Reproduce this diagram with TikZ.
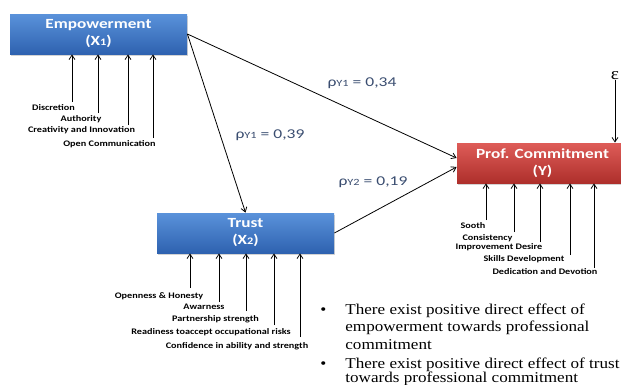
\documentclass[tikz,border=0pt]{standalone}
\usepackage{fontspec}
\setmainfont[FakeStretch=1.14]{Liberation Serif}
\setsansfont{Carlito}
\newfontfamily\boxfont[FakeStretch=1.23]{Carlito}
\newfontfamily\itemfont[FakeStretch=1.2]{Carlito}
\newfontfamily\coeffont[FakeStretch=1.3]{Carlito}
\usetikzlibrary{arrows.meta,shadows}

\definecolor{blueTop}{HTML}{5A92DA}
\definecolor{blueBot}{HTML}{2E62B0}
\definecolor{redTop}{HTML}{DE5C58}
\definecolor{redBot}{HTML}{AE2F2B}
\definecolor{coefText}{HTML}{3A4D70}

\begin{document}
\begin{tikzpicture}[x=1pt, y=-1pt, thick, >={Straight Barb[length=4.5pt,width=6pt]},
                    factor/.style={rectangle,minimum height=40pt,inner sep=0pt,align=center,text=white,
                      font=\boxfont\bfseries\fontsize{14}{17}\selectfont,
                      drop shadow={shadow xshift=1pt,shadow yshift=-1.5pt,opacity=0.35}},
                    blue factor/.style={factor,top color=blueTop,bottom color=blueBot,minimum width=177pt},
                    red factor/.style={factor,top color=redTop,bottom color=redBot,minimum width=171pt},
                    item/.style={font=\itemfont\bfseries\fontsize{8.5}{9}\selectfont,inner sep=0pt},
                    coef/.style={font=\coeffont\fontsize{13.5}{15}\selectfont,text=coefText}]

  \useasboundingbox (0,0) rectangle (621,384);

  \node[blue factor] (emp) at (98.5,34) {Empowerment\\(X{\fontsize{10}{10}\selectfont 1})};
  \node[blue factor] (trust) at (245.5,233) {Trust\\(X{\fontsize{10}{10}\selectfont 2})};
  \node[red factor] (prof) at (542.5,163) {Prof. Commitment\\(Y)};
  \node[font=\fontsize{17}{17}\selectfont,inner sep=0pt] (eps) at (615,76) {ε};

  \node[coef] (c1) at (362,83) {ρ{\fontsize{9.5}{10}\selectfont Y1} = 0,34};
  \node[coef] (c2) at (270,135) {ρ{\fontsize{9.5}{10}\selectfont Y1} = 0,39};
  \node[coef] (c3) at (373,182) {ρ{\fontsize{9.5}{10}\selectfont Y2} = 0,19};

  % indicators of empowerment
  \coordinate (e1) at (72,102);
  \coordinate (e2) at (98,113);
  \coordinate (e3) at (128,125);
  \coordinate (e4) at (153,138);
  \node[item] (le1) at (53.5,108) {Discretion};
  \node[item] (le2) at (81,119) {Authority};
  \node[item] (le3) at (81.5,130) {Creativity and Innovation};
  \node[item] (le4) at (109.5,144) {Open Communication};

  % indicators of trust
  \coordinate (t1) at (190,288);
  \coordinate (t2) at (219,302);
  \coordinate (t3) at (246,311);
  \coordinate (t4) at (274,325);
  \coordinate (t5) at (300,337);
  \node[item] (lt1) at (159,296) {Openness \& Honesty};
  \node[item] (lt2) at (204,307) {Awarness};
  \node[item] (lt3) at (215.5,319) {Partnership strength};
  \node[item] (lt4) at (211,332) {Readiness toaccept occupational risks};
  \node[item] (lt5) at (237,346) {Confidence in ability and strength};

  % indicators of commitment
  \coordinate (p1) at (486,220);
  \coordinate (p2) at (514,232);
  \coordinate (p3) at (540,242);
  \coordinate (p4) at (570,255);
  \coordinate (p5) at (594,268);
  \node[item] (lp1) at (473,226) {Sooth};
  \node[item] (lp2) at (487.5,238) {Consistency};
  \node[item] (lp3) at (499,247) {Improvement Desire};
  \node[item] (lp4) at (524,259) {Skills Development};
  \node[item] (lp5) at (545,272) {Dedication and Devotion};

  \node[anchor=base west,inner sep=0pt,font=\fontsize{15}{17.5}\selectfont] (notes) at (320,314)
    {\begin{tabular}[t]{@{}l@{\hskip 19pt}l@{}}
      • & There exist positive direct effect of\\
        & empowerment towards professional\\
        & commitment\\[1.5pt]
      • & There exist positive direct effect of trust\\[-3.5pt]
        & towards professional commitment
     \end{tabular}};

\path[->]
    (emp.east) edge (trust.north)
    (emp.east) edge ([yshift=5pt]prof.west)
    (trust.east) edge ([yshift=-4pt]prof.west)
    (eps) edge (eps |- prof.north)

    (e1) edge (e1 |- emp.south)
    (e2) edge (e2 |- emp.south)
    (e3) edge (e3 |- emp.south)
    (e4) edge (e4 |- emp.south)

    (t1) edge (t1 |- trust.south)
    (t2) edge (t2 |- trust.south)
    (t3) edge (t3 |- trust.south)
    (t4) edge (t4 |- trust.south)
    (t5) edge (t5 |- trust.south)

    (p1) edge (p1 |- prof.south)
    (p2) edge (p2 |- prof.south)
    (p3) edge (p3 |- prof.south)
    (p4) edge (p4 |- prof.south)
    (p5) edge (p5 |- prof.south)
  ;

\end{tikzpicture}
\end{document}
